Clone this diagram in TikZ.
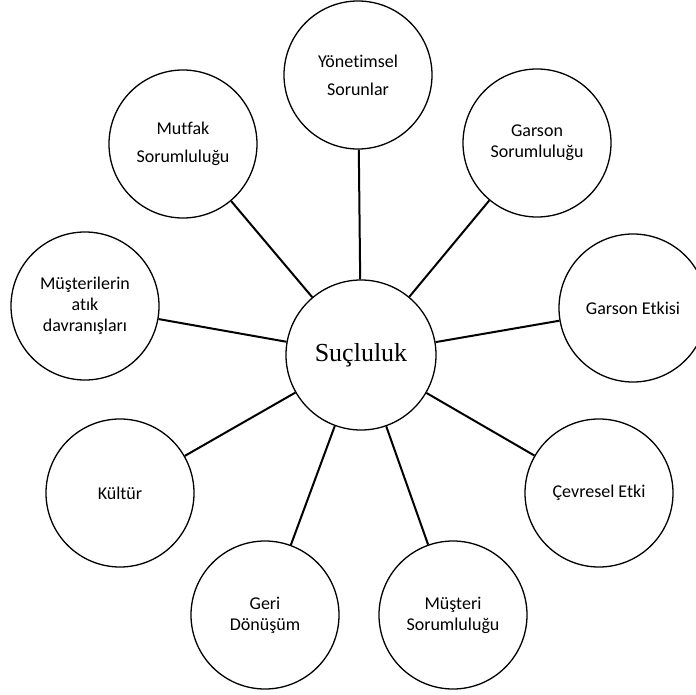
\documentclass[tikz,border=0pt]{standalone}
\usepackage{fontspec}
\setmainfont{Liberation Serif}
\newfontfamily\labelfont[Ligatures=NoCommon]{Carlito}

\begin{document}
\begin{tikzpicture}[x=1pt,y=-1pt]

% Parameters
\def\topicSize{148pt}
\def\coreSize{150pt}

\tikzset{
  topic/.style={circle, draw, line width=1.3pt, minimum size=\topicSize, inner sep=0pt,
    align=center, font=\labelfont\fontsize{18}{21}\selectfont},
  wide/.style={font=\labelfont\fontsize{18}{28}\selectfont},
  core/.style={circle, draw, line width=1.3pt, minimum size=\coreSize, inner sep=0pt,
    font=\fontsize{26}{30}\selectfont},
  link/.style={line width=2pt}
}

\useasboundingbox (0,0) rectangle (696,695);

% Centre
\node[core] (guilt) at (361,355) {Suçluluk};

% Topics around it
\node[topic, wide] (mgmt) at (358,75) {Yönetimsel\\Sorunlar};
\node[topic, wide] (kitchen) at (183,144) {Mutfak\\Sorumluluğu};
\node[topic] (waiterResp) at (537,143) {Garson\\Sorumluluğu};
\node[topic] (wasteBehav) at (85,306) {Müşterilerin\\atık\\davranışları};
\node[topic] (waiterEff) at (633,308) {Garson Etkisi};
\node[topic] (culture) at (120,493) {Kültür};
\node[topic] (environ) at (599,493) {Çevresel Etki};
\node[topic] (recycle) at (265,615) {Geri\\Dönüşüm};
\node[topic] (customerResp) at (453,615) {Müşteri\\Sorumluluğu};

% Spokes
\foreach \n in {mgmt,kitchen,waiterResp,wasteBehav,waiterEff,culture,environ,recycle,customerResp}
  \draw[link] (guilt) -- (\n);
\end{tikzpicture}
\end{document}
